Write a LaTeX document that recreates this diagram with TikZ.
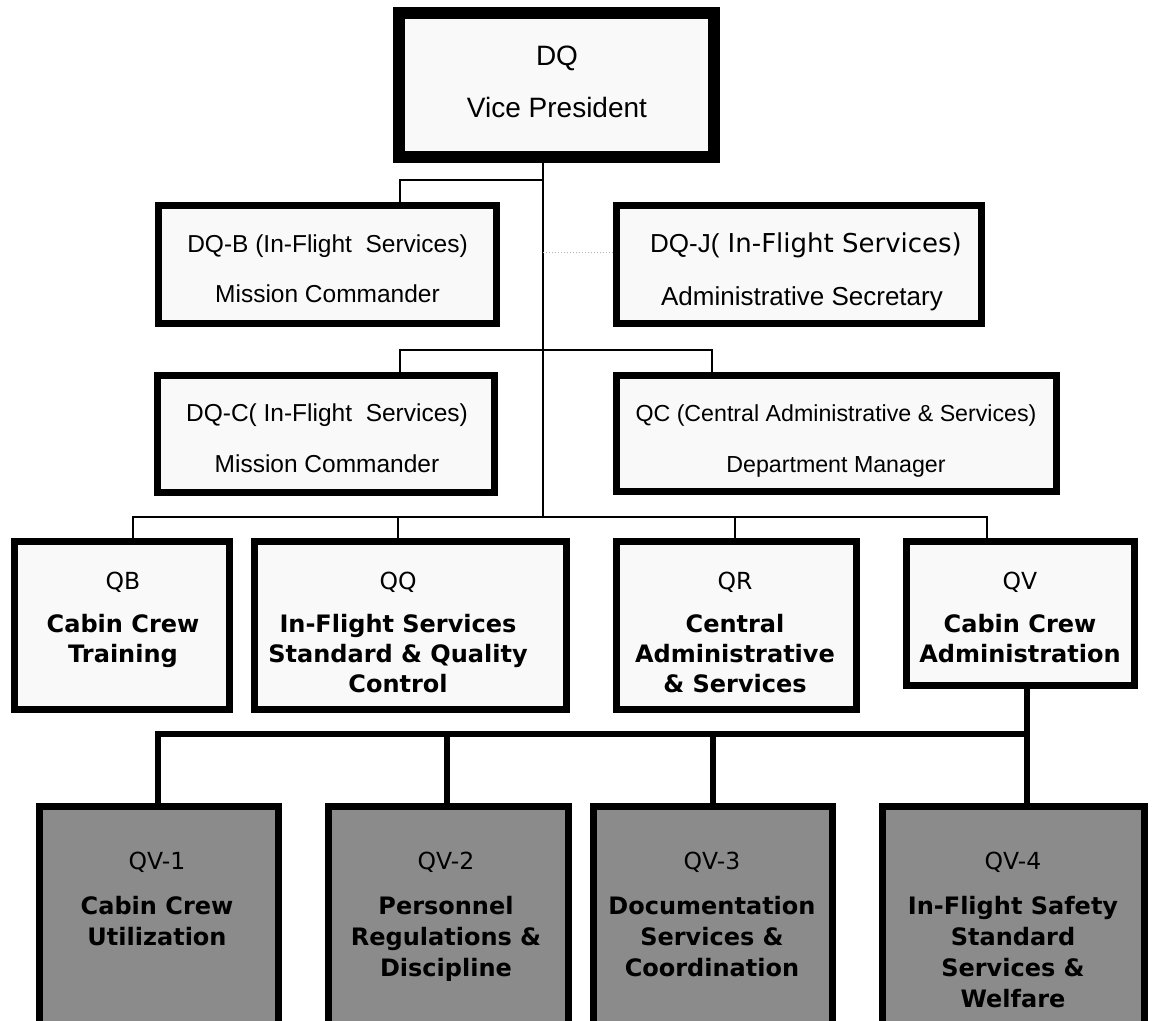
\documentclass[tikz,border=0pt]{standalone}
\usepackage{fontspec}
\setmainfont{Liberation Sans}
\newfontfamily\vfont{DejaVu Sans}
\usetikzlibrary{calc}

% type sizes
\newcommand\fTop{\fontsize{28}{34}\selectfont}
\newcommand\fMid{\fontsize{24.5}{29}\selectfont}
\newcommand\fQc{\fontsize{23.2}{28}\selectfont}
\newcommand\fSec{\fontsize{26}{31}\selectfont}
\newcommand\fLab{\vfont\fontsize{23.5}{28}\selectfont}
\newcommand\fTit{\vfont\bfseries\fontsize{24}{29}\selectfont}

\definecolor{boxfill}{gray}{0.975}
\definecolor{unitfill}{gray}{0.545}
\definecolor{dotline}{gray}{0.7}

\begin{document}
\begin{tikzpicture}[x=1pt,y=-1pt,
  box/.style={draw=black, fill=boxfill, line width=7pt, inner sep=0pt, line join=miter},
  headbox/.style={box, line width=12pt},
  unitbox/.style={box, fill=unitfill},
  conn/.style={draw=black, line width=2.3pt, line join=miter},
  thickconn/.style={draw=black, line width=6pt, line join=miter},
  dotconn/.style={draw=dotline, line width=1pt, dotted},
  txt/.style={inner sep=0pt, anchor=base, text=black},
]
\fill[white] (0,0) rectangle (1153,1020);
\useasboundingbox (0,0) rectangle (1153,1020);
\clip (0,0) rectangle (1153,1020);

% ---------- boxes ----------
\node[headbox, minimum width=315pt, minimum height=144pt] (dq)  at (556.5,85) {};
\node[box, minimum width=338pt, minimum height=118pt] (dqb) at (327.5,264.5) {};
\node[box, minimum width=365pt, minimum height=118pt] (dqj) at (799,264.5) {};
\node[box, minimum width=337pt, minimum height=117pt] (dqc) at (326,434) {};
\node[box, minimum width=440pt, minimum height=116pt] (qc)  at (836.5,433.5) {};

\node[box, minimum width=215pt, minimum height=168pt] (qb) at (122,625.5) {};
\node[box, minimum width=312pt, minimum height=168pt] (qq) at (410.5,625.5) {};
\node[box, minimum width=240pt, minimum height=168pt] (qr) at (736.5,625.5) {};
\node[box, minimum width=228pt, minimum height=144pt] (qv) at (1020.5,613.5) {};

\node[unitbox, minimum width=239pt, minimum height=230pt] (qv1) at (159,921.5) {};
\node[unitbox, minimum width=240pt, minimum height=230pt] (qv2) at (448.5,921.5) {};
\node[unitbox, minimum width=239pt, minimum height=230pt] (qv3) at (713,921.5) {};
\node[unitbox, minimum width=262pt, minimum height=230pt] (qv4) at (1013.5,921.5) {};

% ---------- junction points ----------
\coordinate (s1) at (543,180);
\coordinate (s2) at (543,252);
\coordinate (s3) at (543,517);
\coordinate (b1) at (400,180);
\coordinate (b2l) at (400,350);
\coordinate (b2r) at (712,350);
\coordinate (b3a) at (133,517);
\coordinate (b3b) at (398,517);
\coordinate (b3c) at (735,517);
\coordinate (b3d) at (987,517);
\coordinate (b4a) at (158,734);
\coordinate (b4b) at (447,734);
\coordinate (b4c) at (713,734);
\coordinate (b4d) at (1027,734);

% ---------- connectors ----------
\draw[conn] (dq.south -| s1) -- (s3);
\draw[conn] (s1) -- (b1) -- (dqb.north -| b1);
\draw[dotconn] (s2) -- (dqj.west |- s2);
\draw[conn] (dqc.north -| b2l) -- (b2l) -- (b2r) -- (qc.north -| b2r);
\draw[conn] (qb.north -| b3a) -- (b3a) -- (b3d) -- (qv.north -| b3d);
\draw[conn] (b3b) -- (qq.north -| b3b);
\draw[conn] (b3c) -- (qr.north -| b3c);

\draw[thickconn] (qv.south -| b4d) -- (qv4.north -| b4d);
\draw[thickconn] (qv1.north -| b4a) -- (b4a) -- (b4d);
\draw[thickconn] (b4b) -- (qv2.north -| b4b);
\draw[thickconn] (b4c) -- (qv3.north -| b4c);

% ---------- texts ----------
\node[txt] (dq-1) at (557,65)  {\fTop DQ};
\node[txt] (dq-2) at (557,117) {\fTop Vice President};

\node[txt] (dqb-1) at (327.5,252) {\fMid DQ-B (In-Flight\ \ Services)};
\node[txt] (dqb-2) at (327.5,302) {\fMid Mission Commander};

\node[txt] (dqj-1) at (806,252) {\fSec DQ-J(\vfont\ In-Flight Services)};
\node[txt] (dqj-2) at (802,305) {\fSec Administrative Secretary};

\node[txt] (dqc-1) at (327,421) {\fMid DQ-C( In-Flight\ \ Services)};
\node[txt] (dqc-2) at (327,472) {\fMid Mission Commander};

\node[txt] (qc-1) at (836,421) {\fQc QC (Central Administrative \& Services)};
\node[txt] (qc-2) at (836,472) {\fQc Department Manager};

% departments
\node[txt] (qb-0) at (123,589) {\fLab QB};
\node[txt] (qb-1) at (123,632) {\fTit Cabin Crew};
\node[txt] (qb-2) at (123,662) {\fTit Training};

\node[txt] (qq-0) at (398,589) {\fLab QQ};
\node[txt] (qq-1) at (398,632) {\fTit In-Flight Services};
\node[txt] (qq-2) at (398,662) {\fTit Standard \& Quality};
\node[txt] (qq-3) at (398,692) {\fTit Control};

\node[txt] (qr-0) at (735,589) {\fLab QR};
\node[txt] (qr-1) at (735,632) {\fTit Central};
\node[txt] (qr-2) at (735,662) {\fTit Administrative};
\node[txt] (qr-3) at (735,692) {\fTit \& Services};

\node[txt] (qv-0) at (1020,589) {\fLab QV};
\node[txt] (qv-1) at (1020,632) {\fTit Cabin Crew};
\node[txt] (qv-2) at (1020,662) {\fTit Administration};

% units
\node[txt] (qv1-0) at (157,869) {\fLab QV-1};
\node[txt] (qv1-1) at (157,914) {\fTit Cabin Crew};
\node[txt] (qv1-2) at (157,945) {\fTit Utilization};

\node[txt] (qv2-0) at (446,869) {\fLab QV-2};
\node[txt] (qv2-1) at (446,914) {\fTit Personnel};
\node[txt] (qv2-2) at (446,945) {\fTit Regulations \&};
\node[txt] (qv2-3) at (446,976) {\fTit Discipline};

\node[txt] (qv3-0) at (712,869) {\fLab QV-3};
\node[txt] (qv3-1) at (712,914) {\fTit Documentation};
\node[txt] (qv3-2) at (712,945) {\fTit Services \&};
\node[txt] (qv3-3) at (712,976) {\fTit Coordination};

\node[txt] (qv4-0) at (1013,869) {\fLab QV-4};
\node[txt] (qv4-1) at (1013,914) {\fTit In-Flight Safety};
\node[txt] (qv4-2) at (1013,945) {\fTit Standard};
\node[txt] (qv4-3) at (1013,976) {\fTit Services \&};
\node[txt] (qv4-4) at (1013,1007) {\fTit Welfare};
\end{tikzpicture}
\end{document}
